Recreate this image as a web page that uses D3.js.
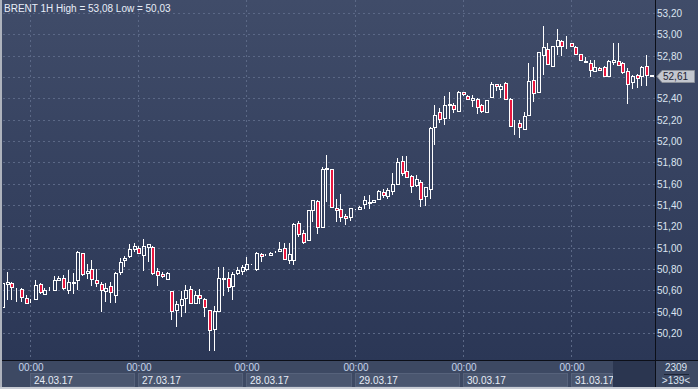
<!DOCTYPE html>
<html lang="en">
	<head>
		<meta charset="utf-8">
		<title>BRENT 1H</title>
		<script src="https://cdnjs.cloudflare.com/ajax/libs/d3/7.8.5/d3.min.js"></script>
		<style type="text/css">
			body { margin: 0; background: #c8ccd4; }
			svg { display: block; font-family: "Liberation Sans", Arial, sans-serif; }
			g.tick text { font-size: 10px; fill: #dce4f0; }
		</style>
	</head>
	<body>
		<div id="chart"></div>
		<script type="text/javascript">

			// hourly candles, 23.03.17 18:00 -> 31.03.17
			const opens = [50.44,50.66,50.67,50.61,50.61,50.53,50.50,50.52,50.66,50.57,50.61,50.60,50.70,50.72,50.60,50.67,50.70,50.95,50.76,50.80,
				50.70,50.66,50.59,50.64,50.56,50.77,50.88,50.92,50.99,51.00,50.93,51.01,51.01,50.78,50.75,50.71,50.59,50.42,50.46,50.53,
				50.61,50.48,50.56,50.52,50.42,50.24,50.41,50.72,50.72,50.64,50.76,50.78,50.80,50.85,50.80,50.94,50.92,50.93,50.96,50.97,
				51.00,50.88,50.88,51.23,51.14,51.07,51.35,51.44,51.19,51.74,51.74,51.37,51.36,51.30,51.29,51.35,51.36,51.41,51.43,51.43,
				51.46,51.52,51.48,51.53,51.60,51.81,51.72,51.67,51.59,51.62,51.48,51.55,52.13,52.27,52.22,52.34,52.34,52.28,52.46,52.42,
				52.38,52.39,52.34,52.27,52.41,52.53,52.49,52.54,52.39,52.16,52.17,52.11,52.24,52.57,52.46,52.81,52.86,52.70,52.89,52.94,
				52.91,52.92,52.88,52.82,52.75,52.73,52.66,52.68,52.69,52.61,52.74,52.75,52.73,52.66,52.55,52.62,52.61,52.70,52.62];
			const highs = [50.68,50.77,50.68,50.62,50.62,50.56,50.52,50.70,50.67,50.62,50.63,50.73,50.73,50.74,50.79,50.76,50.97,50.95,50.85,50.88,
				50.80,50.68,50.67,50.68,50.77,50.90,50.92,51.03,51.04,51.02,51.08,51.03,51.02,50.81,50.77,50.77,50.59,50.50,50.59,50.65,
				50.64,50.59,50.61,50.53,50.42,50.45,50.82,50.82,50.77,50.77,50.82,50.84,50.91,50.85,50.96,50.95,50.94,50.96,50.97,51.05,
				51.04,51.04,51.23,51.25,51.17,51.35,51.45,51.45,51.76,51.87,51.74,51.46,51.50,51.32,51.37,51.36,51.39,51.48,51.49,51.45,
				51.54,51.55,51.56,51.70,51.84,51.86,51.86,51.68,51.68,51.63,51.57,52.13,52.34,52.31,52.42,52.46,52.36,52.47,52.46,52.43,
				52.43,52.40,52.35,52.38,52.55,52.53,52.53,52.55,52.40,52.20,52.20,52.27,52.73,52.69,52.83,53.08,52.92,52.89,53.05,52.95,
				52.98,52.92,52.89,52.82,52.79,52.76,52.76,52.69,52.70,52.76,52.92,52.92,52.74,52.68,52.62,52.63,52.70,52.81,52.62];
			const lows = [50.43,50.51,50.51,50.49,50.49,50.48,50.48,50.51,50.57,50.56,50.59,50.60,50.69,50.60,50.57,50.57,50.60,50.73,50.71,50.64,
				50.63,50.40,50.49,50.48,50.48,50.74,50.82,50.90,50.96,50.94,50.78,50.87,50.74,50.64,50.72,50.71,50.32,50.26,50.35,50.39,
				50.47,50.47,50.47,50.35,50.03,50.03,50.40,50.55,50.58,50.51,50.74,50.74,50.78,50.84,50.78,50.87,50.92,50.93,50.95,50.96,
				50.88,50.85,50.84,51.10,51.03,51.07,51.24,51.13,51.18,51.43,51.37,51.24,51.24,51.21,51.25,51.35,51.36,51.36,51.36,51.42,
				51.45,51.47,51.46,51.49,51.59,51.67,51.65,51.51,51.57,51.38,51.39,51.46,51.96,52.17,52.15,52.21,52.26,52.27,52.42,52.38,
				52.32,52.25,52.26,52.26,52.40,52.47,52.40,52.38,52.14,52.06,52.03,52.10,52.23,52.37,52.45,52.62,52.71,52.69,52.81,52.80,
				52.86,52.88,52.82,52.75,52.73,52.60,52.66,52.66,52.60,52.60,52.71,52.71,52.63,52.35,52.49,52.50,52.52,52.52,52.60];
			const closes = [50.67,50.68,50.63,50.61,50.54,50.48,50.50,50.65,50.58,50.60,50.61,50.70,50.72,50.62,50.68,50.68,50.96,50.75,50.78,50.71,
				50.67,50.60,50.62,50.58,50.76,50.87,50.90,50.99,51.02,50.95,51.02,51.03,50.76,50.74,50.73,50.76,50.41,50.47,50.52,50.60,
				50.48,50.56,50.53,50.44,50.23,50.41,50.72,50.71,50.63,50.75,50.79,50.82,50.85,50.85,50.95,50.92,50.92,50.95,50.96,50.99,
				50.89,50.94,51.22,51.13,51.05,51.35,51.45,51.19,51.74,51.75,51.38,51.35,51.29,51.28,51.37,51.35,51.38,51.45,51.42,51.45,
				51.53,51.49,51.54,51.60,51.80,51.70,51.66,51.58,51.64,51.46,51.57,52.12,52.24,52.21,52.34,52.35,52.30,52.46,52.44,52.39,
				52.40,52.32,52.28,52.38,52.53,52.52,52.52,52.39,52.14,52.16,52.13,52.23,52.56,52.45,52.83,52.88,52.72,52.89,52.95,52.89,
				52.91,52.89,52.82,52.76,52.74,52.67,52.69,52.67,52.61,52.75,52.76,52.71,52.65,52.53,52.61,52.59,52.69,52.62,52.61];

			const priceTicks = [53.2, 53.0, 52.8, 52.6, 52.4, 52.2, 52.0, 51.8, 51.6, 51.4, 51.2, 51.0, 50.8, 50.6, 50.4, 50.2];
			const dayIndex = [6, 29, 52, 75, 98, 121];
			const dayLabels = ["24.03.17", "27.03.17", "28.03.17", "29.03.17", "30.03.17", "31.03.17"];
			const lastPrice = 52.61;
			const totalBars = 2309;

			const width = 698;
			const height = 389;
			const plot = {left: 3, right: 655, top: 0, bottom: 360};
			const step = 4.7;

			const fmt = v => d3.format(".2f")(v).replace(".", ",");

			const svg = d3.select("#chart")
					.append("svg")
					.attr("width", width)
					.attr("height", height);

			const defs = svg.append("defs");
			const grad = defs.append("linearGradient")
					.attr("id", "bg")
					.attr("x1", 0).attr("y1", 0).attr("x2", 0).attr("y2", 1);
			grad.append("stop").attr("offset", "0%").attr("stop-color", "#404c69");
			grad.append("stop").attr("offset", "100%").attr("stop-color", "#2b3756");

			defs.append("clipPath").attr("id", "clip")
				.append("rect")
					.attr("x", plot.left).attr("y", plot.top)
					.attr("width", plot.right - plot.left).attr("height", plot.bottom - plot.top);

			// backgrounds
			svg.append("rect")
					.attr("width", width).attr("height", plot.bottom)
					.attr("fill", "url(#bg)");
			svg.append("rect")
					.attr("y", plot.bottom).attr("width", width).attr("height", height - plot.bottom)
					.attr("fill", "#3d4963");

			const idx = d3.range(opens.length);
			const xScale = d3.scaleBand()
					.domain(idx)
					.range([plot.left - step / 2, plot.left - step / 2 + step * idx.length]);
			const cx = i => Math.round(xScale(i) + xScale.bandwidth() / 2);

			const yScale = d3.scaleLinear()
					.domain([50.2, 53.2])
					.range([333, 13]);

			// grid
			const grid = svg.append("g")
					.attr("stroke", "#5b6886")
					.attr("stroke-dasharray", "2,3")
					.attr("shape-rendering", "crispEdges");
			grid.selectAll("line.h")
				.data(priceTicks)
				.enter()
				.append("line")
					.attr("x1", plot.left).attr("x2", plot.right)
					.attr("y1", d => Math.round(yScale(d)) + 0.5)
					.attr("y2", d => Math.round(yScale(d)) + 0.5);
			grid.selectAll("line.v")
				.data(dayIndex)
				.enter()
				.append("line")
					.attr("x1", d => cx(d) - 0.5).attr("x2", d => cx(d) - 0.5)
					.attr("y1", plot.top).attr("y2", plot.bottom);

			// candles
			const candles = svg.append("g")
					.attr("clip-path", "url(#clip)")
					.attr("shape-rendering", "crispEdges")
				.selectAll("g")
				.data(idx)
				.enter()
				.append("g");

			candles.append("line")
					.attr("x1", i => cx(i) - 0.5).attr("x2", i => cx(i) - 0.5)
					.attr("y1", i => yScale(highs[i]))
					.attr("y2", i => yScale(Math.max(opens[i], closes[i])))
					.attr("stroke", "#ffffff");
			candles.append("line")
					.attr("x1", i => cx(i) - 0.5).attr("x2", i => cx(i) - 0.5)
					.attr("y1", i => yScale(Math.min(opens[i], closes[i])))
					.attr("y2", i => yScale(lows[i]))
					.attr("stroke", "#ffffff");
			candles.append("rect")
					.attr("x", i => cx(i) - 1.5)
					.attr("width", 3)
					.attr("y", i => Math.round(yScale(Math.max(opens[i], closes[i]))) + 0.5)
					.attr("height", i => Math.max(0, Math.round(yScale(Math.min(opens[i], closes[i]))) - Math.round(yScale(Math.max(opens[i], closes[i])))))
					.attr("fill", i => closes[i] < opens[i] ? "#e8173f" : "none")
					.attr("stroke", "#ffffff");

			// right price axis (the label under the price tag is hidden)
			const yAxis = d3.axisRight(yScale)
					.tickValues(priceTicks.filter(d => Math.abs(d - lastPrice) > 0.06))
					.tickSize(0)
					.tickPadding(2)
					.tickFormat(fmt);
			const yg = svg.append("g")
					.attr("transform", "translate(" + plot.right + ",0)")
					.call(yAxis);
			yg.select(".domain").remove();
			yg.selectAll("text").attr("dy", "0.35em").attr("font-size", 10).attr("font-family", "Liberation Sans, Arial, sans-serif");

			// last price tag
			const ly = Math.round(yScale(lastPrice));
			svg.append("path")
					.attr("d", "M657," + (ly + 0.5) + "L662," + (ly - 5.5) + "H694.5V" + (ly + 6.5) + "H662Z")
					.attr("fill", "#c3c7cf")
					.attr("stroke", "#8c919a");
			svg.append("text")
					.attr("x", 663).attr("y", ly + 4)
					.attr("font-size", 10)
					.attr("fill", "#1c2233")
					.text(fmt(lastPrice));

			// time axis
			const xAxisG = svg.append("g");
			const nextX = dayIndex.map((d, k) => k < dayIndex.length - 1 ? cx(dayIndex[k + 1]) - 4 : 613);
			xAxisG.selectAll("rect")
				.data(dayIndex)
				.enter()
				.append("rect")
					.attr("x", d => cx(d) - 0.5)
					.attr("y", 373.5)
					.attr("width", (d, k) => nextX[k] - cx(d))
					.attr("height", 13)
					.attr("fill", "#4a566f")
					.attr("stroke", "#56627b");
			xAxisG.selectAll("text.date")
				.data(dayIndex)
				.enter()
				.append("text")
					.attr("x", d => cx(d) + 3)
					.attr("y", 384)
					.attr("font-size", 10)
					.attr("fill", "#e6ecf6")
					.text((d, k) => dayLabels[k]);
			xAxisG.selectAll("text.hour")
				.data(dayIndex)
				.enter()
				.append("text")
					.attr("x", d => cx(d))
					.attr("y", 371)
					.attr("text-anchor", "middle")
					.attr("font-size", 10)
					.attr("fill", "#c6d4ec")
					.text("00:00");
			svg.append("rect")
					.attr("x", 613).attr("y", 361)
					.attr("width", plot.right - 613).attr("height", 26)
					.attr("fill", "#2b3650");

			// frame lines
			svg.append("line")
					.attr("x1", 0).attr("x2", width)
					.attr("y1", plot.bottom + 0.5).attr("y2", plot.bottom + 0.5)
					.attr("stroke", "#0c0f18");
			svg.append("line")
					.attr("x1", plot.right + 0.5).attr("x2", plot.right + 0.5)
					.attr("y1", 0).attr("y2", 387)
					.attr("stroke", "#0c0f18");
			svg.append("rect")
					.attr("x", 0).attr("y", 0).attr("width", 2).attr("height", height)
					.attr("fill", "#aeb3bd");
			svg.append("rect")
					.attr("x", 0).attr("y", 387).attr("width", width).attr("height", 2)
					.attr("fill", "#c8ccd4");

			// bar counter
			svg.append("text")
					.attr("x", 676).attr("y", 371)
					.attr("text-anchor", "middle")
					.attr("font-size", 10)
					.attr("fill", "#dce4f0")
					.text(totalBars);
			svg.append("line")
					.attr("x1", 664).attr("x2", 689)
					.attr("y1", 374.5).attr("y2", 374.5)
					.attr("stroke", "#1e2536");
			svg.append("text")
					.attr("x", 676).attr("y", 384)
					.attr("text-anchor", "middle")
					.attr("font-size", 10)
					.attr("fill", "#dce4f0")
					.text(">" + opens.length + "<");

			// title
			svg.append("text")
					.attr("x", 4).attr("y", 12)
					.attr("font-size", 10)
					.attr("fill", "#e8eef8")
					.text("BRENT 1H High = " + fmt(d3.max(highs)) + " Low = " + fmt(d3.min(lows)));

		</script>
	</body>
</html>
